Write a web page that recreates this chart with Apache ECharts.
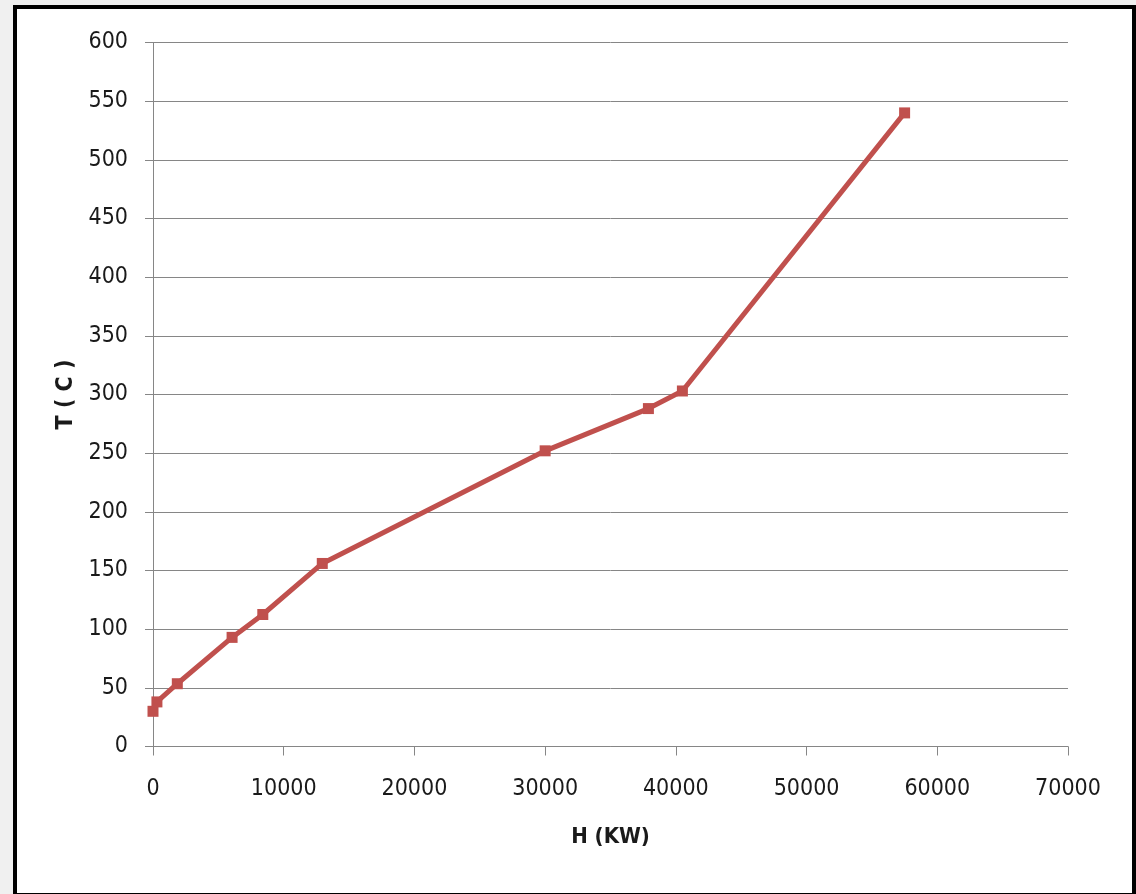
<!DOCTYPE html>
<html>
<head>
<meta charset="utf-8">
<script src="https://cdn.jsdelivr.net/npm/echarts@6/dist/echarts.min.js"></script>
<style>
  html, body { margin: 0; padding: 0; width: 1136px; height: 894px; overflow: hidden; background: #f0f0f0; }
  #frame { position: absolute; left: 13px; top: 5px; width: 1115px; height: 884px; border: 4px solid #000; background: #fff; }
  #chart { position: absolute; left: 0; top: 0; width: 1136px; height: 894px; }
</style>
</head>
<body>
<div id="frame"></div>
<div id="chart"></div>
<script>
const hValues = [0, 300, 1860, 6050, 8400, 12950, 30000, 37900, 40500, 57500];
const tValues = [30, 38, 53.5, 93, 112.5, 156, 252, 288, 303, 540];
const xTitle = 'H (KW)';
const yTitle = 'T ( C )';

const FONT = '"DejaVu Sans Condensed", "Liberation Sans", sans-serif';
const chart = echarts.init(document.getElementById('chart'), null, { renderer: 'canvas' });
chart.setOption({
  animation: false,
  backgroundColor: 'transparent',
  grid: { left: 153, top: 42.5, right: 68, bottom: 147.5, containLabel: false },
  xAxis: {
    type: 'value', min: 0, max: 70000, interval: 10000,
    name: xTitle, nameLocation: 'middle', nameGap: 80,
    nameTextStyle: { fontFamily: FONT, fontWeight: 'bold', fontSize: 22, color: '#1a1a1a' },
    axisLine: { show: true, lineStyle: { color: '#868686', width: 1 } },
    axisTick: { show: true, length: 9, lineStyle: { color: '#868686' } },
    axisLabel: { fontFamily: FONT, fontSize: 23, color: '#1a1a1a', margin: 31, formatter: v => String(v) },
    splitLine: { show: false }
  },
  yAxis: {
    type: 'value', min: 0, max: 600, interval: 50,
    name: yTitle, nameLocation: 'middle', nameGap: 74, nameRotate: 90,
    nameTextStyle: { fontFamily: FONT, fontWeight: 'bold', fontSize: 23, color: '#1a1a1a' },
    axisLine: { show: true, lineStyle: { color: '#868686', width: 1 } },
    axisTick: { show: true, length: 8, lineStyle: { color: '#868686' } },
    axisLabel: { fontFamily: FONT, fontSize: 23, color: '#1a1a1a', margin: 25, formatter: v => String(v) },
    splitLine: { show: true, lineStyle: { color: '#868686', width: 1 } }
  },
  series: [{
    type: 'line',
    data: hValues.map((h, i) => [h, tValues[i]]),
    symbol: 'rect', symbolSize: 11,
    itemStyle: { color: '#c0504d' },
    lineStyle: { color: '#c0504d', width: 5 }
  }]
});
</script>
</body>
</html>
